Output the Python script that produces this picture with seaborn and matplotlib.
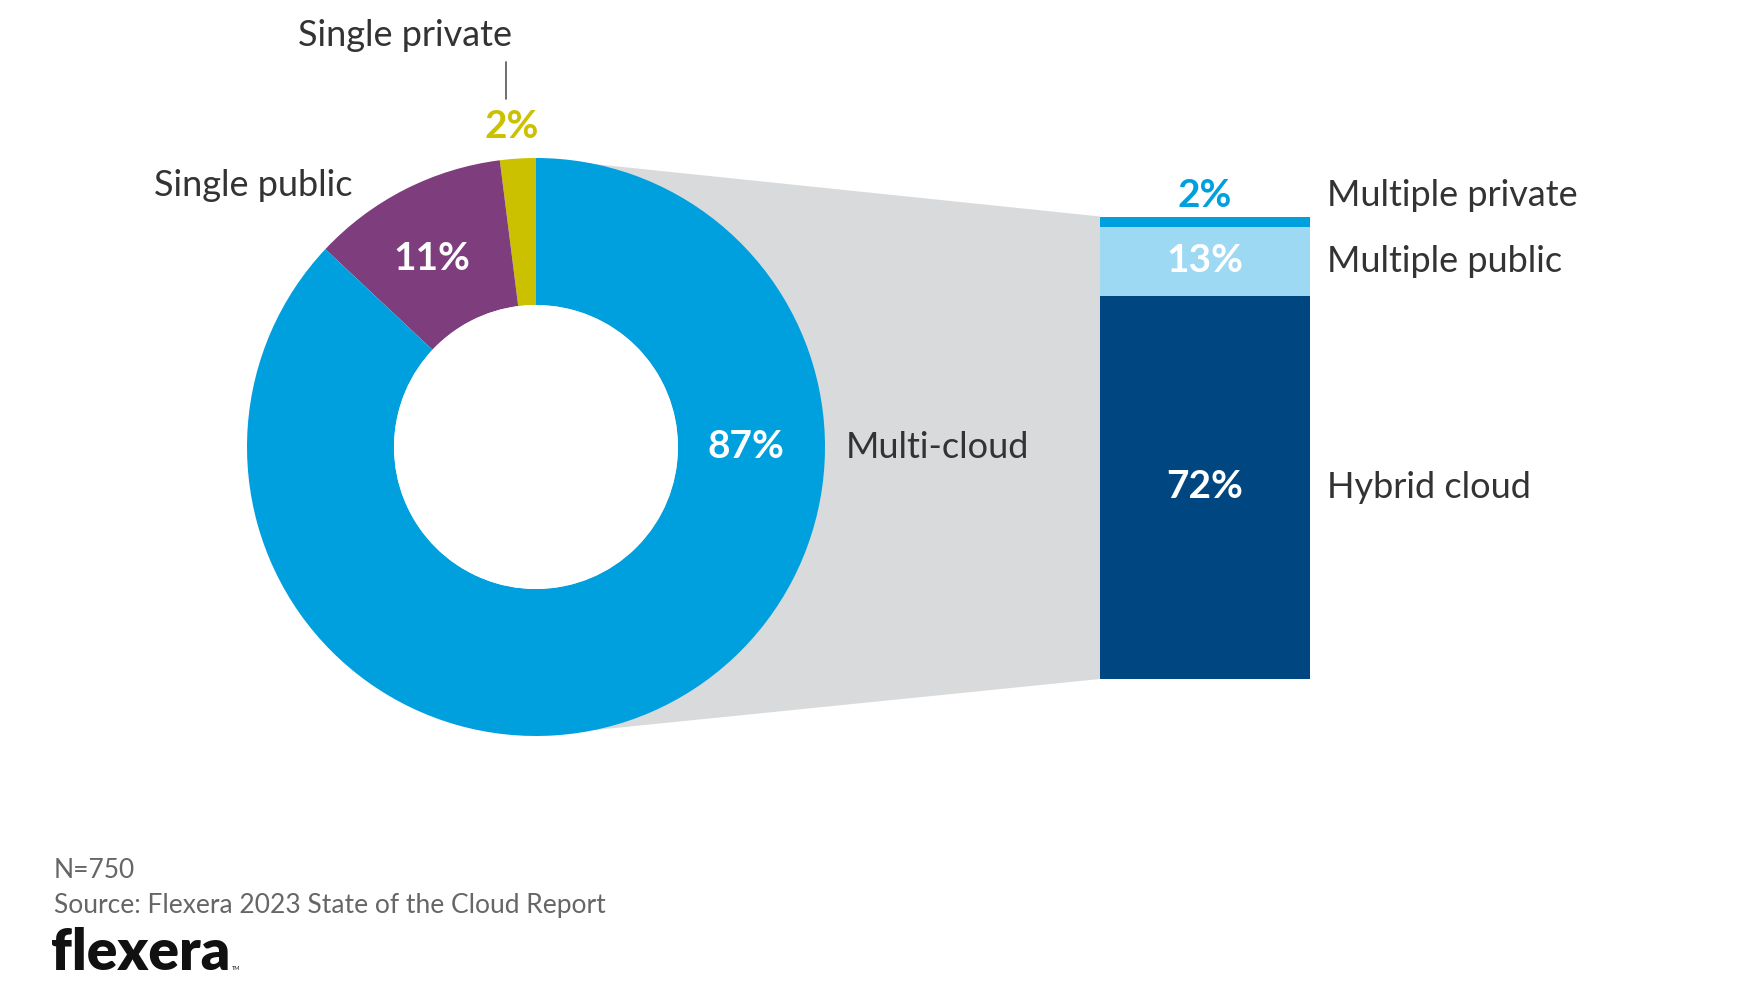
import matplotlib
matplotlib.use("Agg")
import matplotlib.pyplot as plt
from matplotlib.patches import Circle
import seaborn as sns

# donut: single private, single public, multi-cloud
pie_labels = ["Single private", "Single public", "Multi-cloud"]
pie_values = [2, 11, 87]
pie_colors = ["#CCC100", "#7E3E7D", "#00A0DF"]

# multi-cloud breakdown (bottom -> top)
bar_labels = ["Hybrid cloud", "Multiple public", "Multiple private"]
bar_values = [72, 13, 2]
bar_colors = ["#004680", "#9DD9F3", "#00A0DF"]

W, H = 1759, 994
TXT = "#333333"
LAB = 26
PCT = 28

sns.set_theme(style="white")
plt.rcParams["font.family"] = ["Lato", "DejaVu Sans"]

fig = plt.figure(figsize=(W / 100, H / 100), dpi=100)
ax = fig.add_axes([0, 0, 1, 1])

def Y(y):
    return H - y

# donut geometry (pixels)
cx, cy, R, r = 536, 447, 289, 142
# bar geometry (pixels)
bx0, bx1, by0, by1 = 1100, 1310, 216.5, 679

# grey connector behind the donut
ax.fill([cx, bx0, bx0, cx], [Y(cy - R), Y(by0), Y(by1), Y(cy + R)],
        color="#D9DADB", zorder=0, lw=0)

ax.pie(pie_values, colors=pie_colors, startangle=90, counterclock=True,
       center=(cx, Y(cy)), radius=R, frame=True,
       wedgeprops=dict(width=R - r, linewidth=0))
ax.add_patch(Circle((cx, Y(cy)), r, color="white", lw=0, zorder=2))
ax.set_xlim(0, W)
ax.set_ylim(0, H)
ax.axis("off")

# donut labels
ax.text(432, Y(258), f"{pie_values[1]}%", color="white", fontsize=PCT, fontweight="bold",
        ha="center", va="center")
ax.text(746, Y(447), f"{pie_values[2]}%", color="white", fontsize=PCT, fontweight="bold",
        ha="center", va="center")
ax.text(512, Y(126), f"{pie_values[0]}%", color=pie_colors[0], fontsize=PCT,
        fontweight="bold", ha="center", va="center")
ax.plot([506, 506], [Y(62), Y(99)], color="#555555", lw=1.2)
ax.text(405, Y(36), pie_labels[0], color=TXT, fontsize=LAB, ha="center", va="center")
ax.text(253, Y(185), pie_labels[1], color=TXT, fontsize=LAB, ha="center", va="center")
ax.text(846, Y(447), pie_labels[2], color=TXT, fontsize=LAB, ha="left", va="center")

# stacked bar in its own axes, drawn as overlapping cumulative bars
bax = fig.add_axes([bx0 / W, (H - by1) / H, (bx1 - bx0) / W, (by1 - by0) / H])
bax.patch.set_alpha(0)
cum = [sum(bar_values[:i + 1]) for i in range(len(bar_values))]
for total, col in zip(cum[::-1], bar_colors[::-1]):
    sns.barplot(x=[0], y=[total], color=col, width=1, ax=bax, saturation=1,
                linewidth=0)
bax.set_xlim(-0.5, 0.5)
bax.set_ylim(0, sum(bar_values))
bax.axis("off")

# percentages inside / above the bar, names to the right
for i, (v, lab) in enumerate(zip(bar_values, bar_labels)):
    mid = cum[i] - v / 2
    if i == len(bar_values) - 1:
        bax.annotate(f"{v}%", (0, cum[i]), xytext=(0, 15), textcoords="offset points",
                     color=bar_colors[i], fontsize=PCT, fontweight="bold",
                     ha="center", va="center", annotation_clip=False)
        bax.annotate(lab, (0.58, cum[i]), xytext=(0, 15), textcoords="offset points",
                     color=TXT, fontsize=LAB, ha="left", va="center", annotation_clip=False)
    else:
        bax.annotate(f"{v}%", (0, mid), xytext=(0, 1), textcoords="offset points",
                     color="white", fontsize=PCT, fontweight="bold",
                     ha="center", va="center")
        bax.annotate(lab, (0.58, mid), xytext=(0, 0), textcoords="offset points",
                     color=TXT, fontsize=LAB, ha="left", va="center", annotation_clip=False)

# footer
ax.text(54, Y(870), "N=750", color="#666666", fontsize=19, ha="left", va="center")
ax.text(54, Y(905), "Source: Flexera 2023 State of the Cloud Report", color="#666666",
        fontsize=19, ha="left", va="center")
ax.text(51, Y(953), "flexera", color="#111111", fontsize=41, fontweight="heavy",
        ha="left", va="center")
ax.text(232, Y(968), "TM", color="#111111", fontsize=4, ha="left", va="center")

fig.savefig("out.png", dpi=100, facecolor="white")
